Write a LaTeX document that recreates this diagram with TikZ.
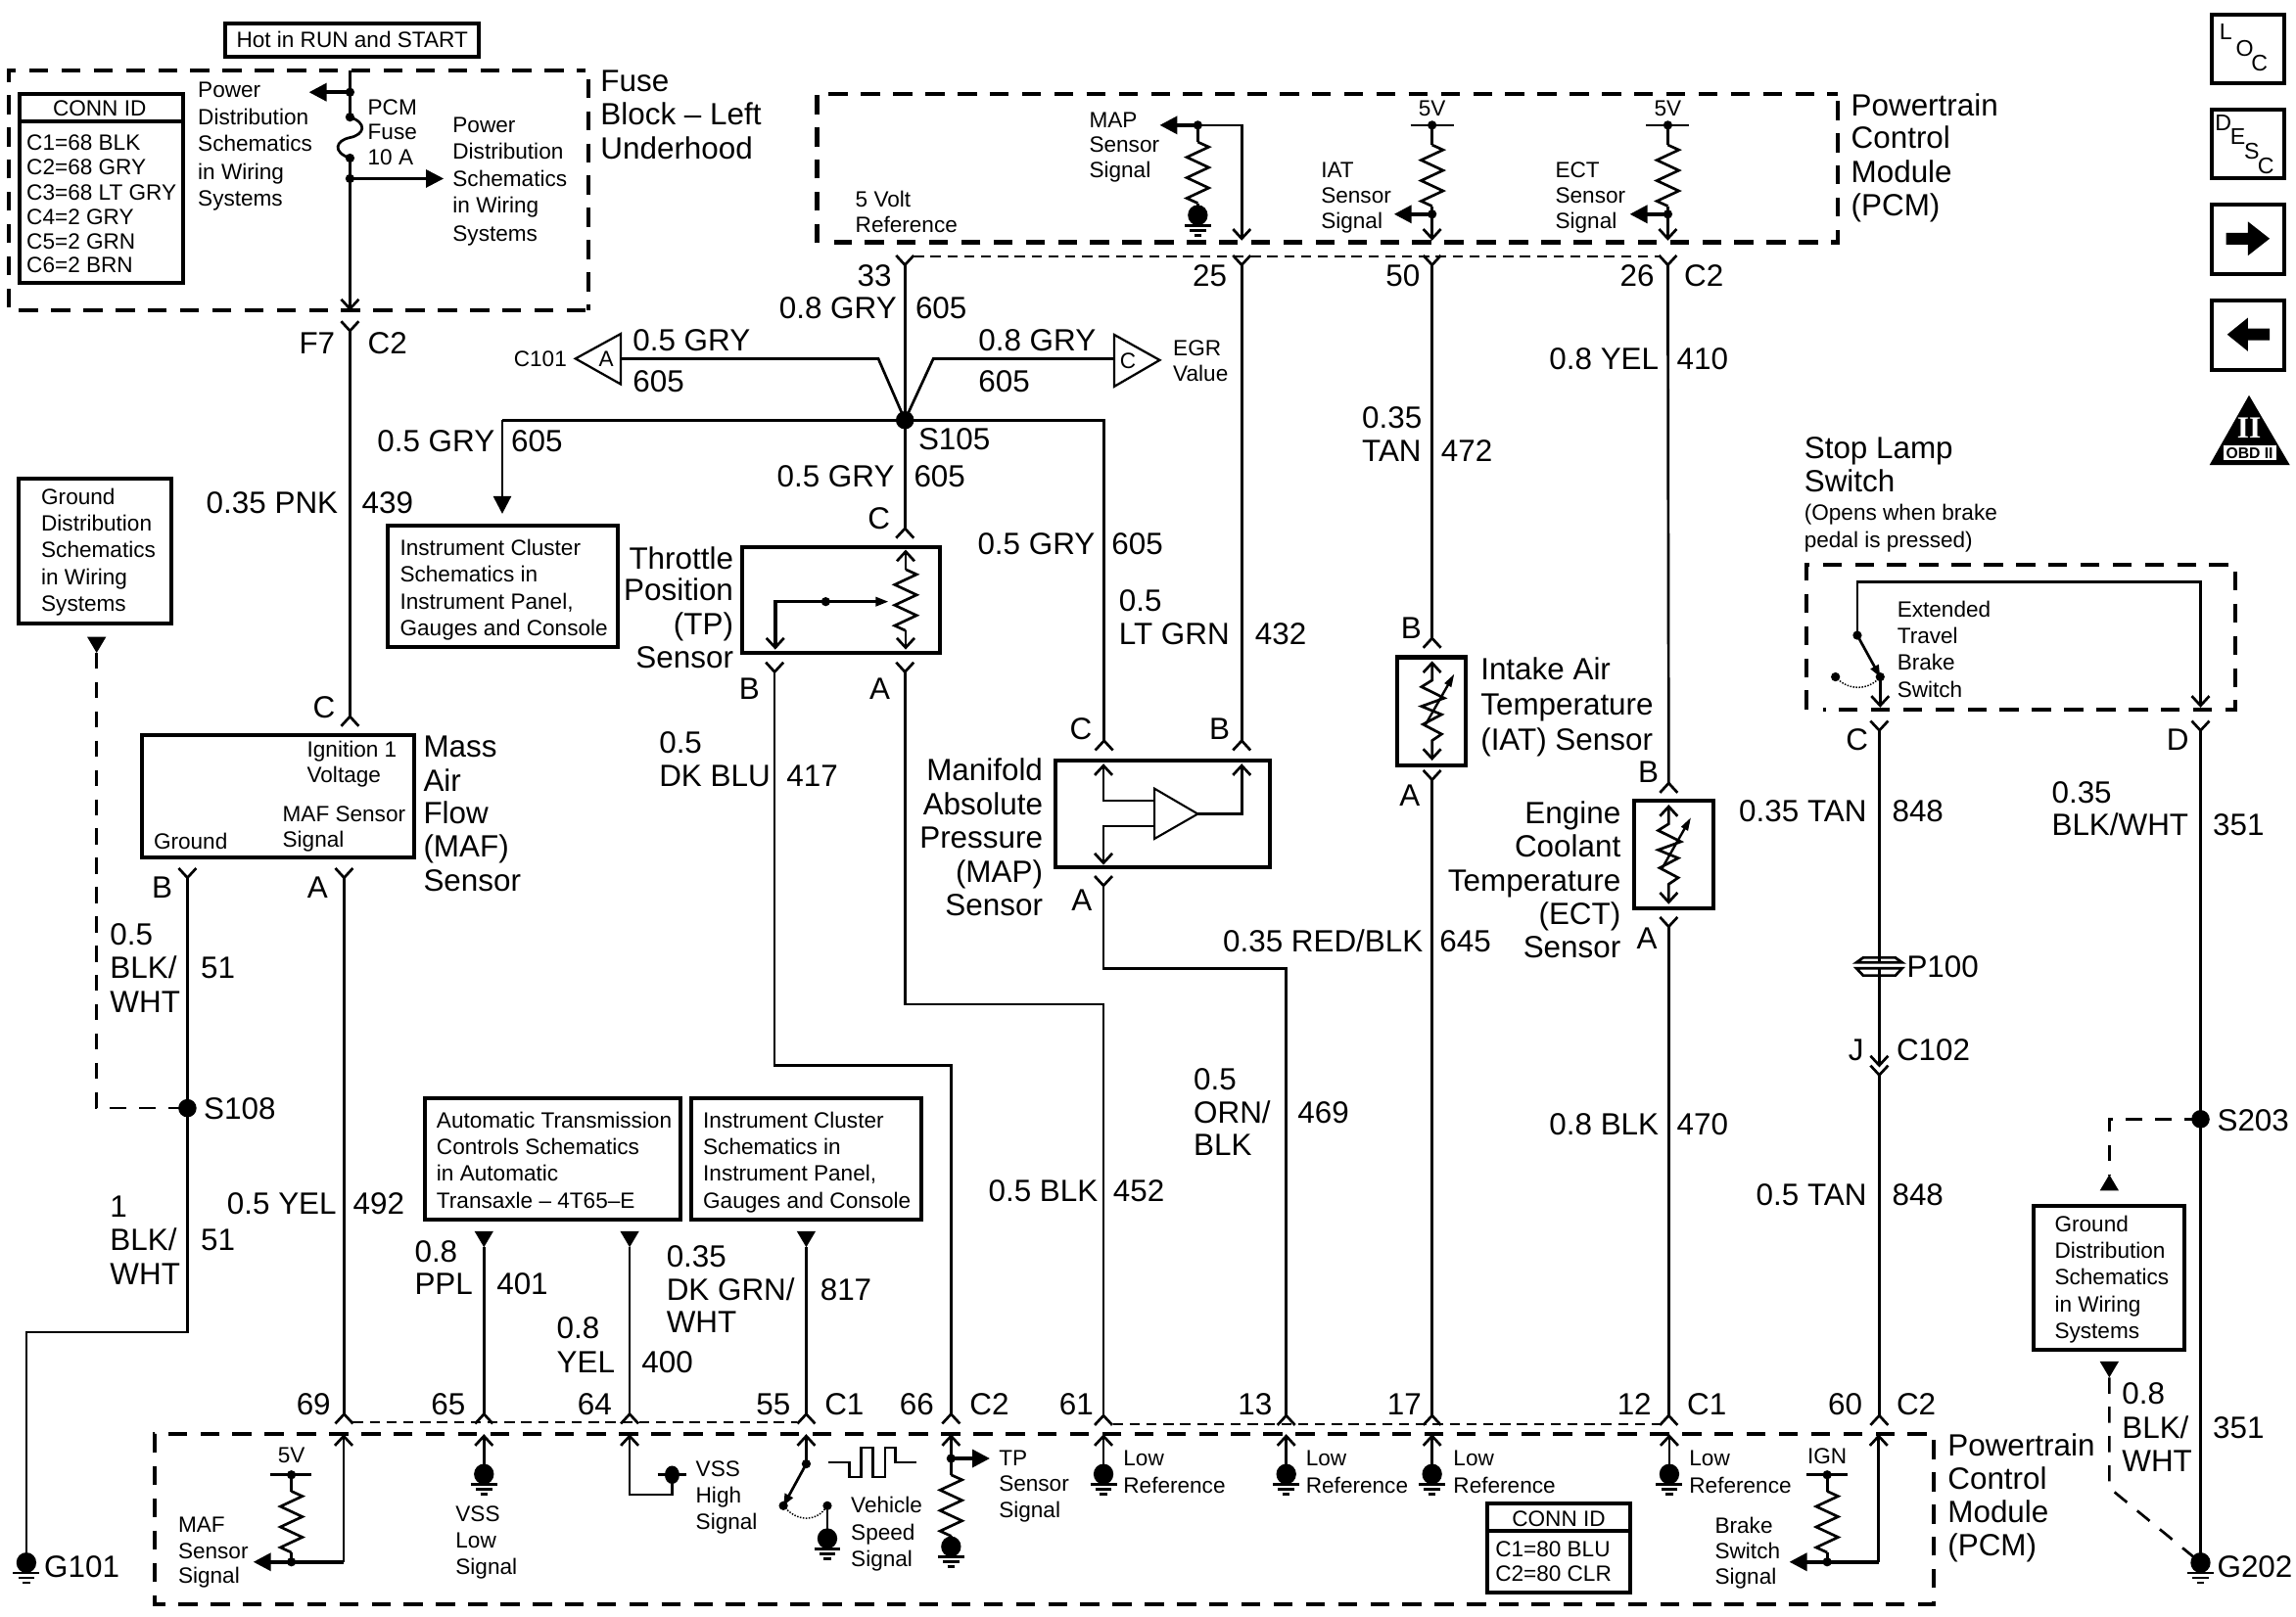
\documentclass[tikz,border=0pt]{standalone}
\usepackage{fontspec}
\setmainfont{Liberation Sans}
\newfontfamily\serfont{Liberation Serif}
\usetikzlibrary{calc,arrows.meta}
\newcounter{tn}
\tikzset{
  wire/.style={line width=1.8pt,line join=miter},
  wireb/.style={line width=2.4pt,line join=miter},
  boxb/.style={line width=2.7pt,draw=black},
  dashb/.style={line width=2.8pt,dash pattern=on 13pt off 9pt},
  dashm/.style={line width=1.8pt,dash pattern=on 11pt off 9pt},
  dasht/.style={line width=1.1pt,dash pattern=on 7pt off 4.5pt},
  sig/.style={-{Triangle[length=12pt,width=12pt]}},
  bigt/.style={inner sep=0pt,font=\fontsize{21}{23}\selectfont},
  smt/.style={inner sep=0pt,font=\fontsize{15.1}{18}\selectfont},
}
\newcommand\tbL[3]{\stepcounter{tn}\node[bigt,anchor=base west] (t\arabic{tn}) at (#1,#2+7.5) {#3};}
\newcommand\tbR[3]{\stepcounter{tn}\node[bigt,anchor=base east] (t\arabic{tn}) at (#1,#2+7.5) {#3};}
\newcommand\tsL[3]{\stepcounter{tn}\node[smt,anchor=base west] (t\arabic{tn}) at (#1,#2+5.5) {#3};}
\newcommand\tsC[3]{\stepcounter{tn}\node[smt,anchor=base] (t\arabic{tn}) at (#1,#2+5.5) {#3};}
\newcommand\icl[3]{\stepcounter{tn}\node[inner sep=0pt,anchor=base,font=\fontsize{15.5}{16}\selectfont] (t\arabic{tn}) at (#1,#2+5.7) {#3};}
\newcommand\forkU[1]{\draw[wire] ($(#1)+(-6,-6.5)$) -- (#1) -- ($(#1)+(6,-6.5)$);}
\newcommand\forkD[1]{\draw[wire] ($(#1)+(-6,6.5)$) -- (#1) -- ($(#1)+(6,6.5)$);}
\newcommand\jdot[1]{\fill (#1) circle (3.1pt);}
\newcommand\bigdot[1]{\fill (#1) circle (6.2pt);}
\newcommand\gnd[1]{\fill (#1) ellipse [x radius=6.8pt,y radius=7pt];
  \draw[wire] ($(#1)+(-9,7)$) -- ($(#1)+(9,7)$);
  \draw[wire] ($(#1)+(-5.5,10.4)$) -- ($(#1)+(5.5,10.4)$);
  \draw[wire] ($(#1)+(-2.5,13.8)$) -- ($(#1)+(2.5,13.8)$);}
\newcommand\zig[1]{\draw[wire] (#1) -- ++(7.5,3.4) -- ++(-15,7) -- ++(15,7) -- ++(-15,7) -- ++(15,7) -- ++(-15,7) -- ++(7.5,3.4) coordinate (zigend);}
\newcommand\triD[1]{\fill (#1) -- ($(#1)+(-6.5,-11)$) -- ($(#1)+(6.5,-11)$) -- cycle;}
\newcommand\triU[1]{\fill (#1) -- ($(#1)+(-6.5,11)$) -- ($(#1)+(6.5,11)$) -- cycle;}
\newcommand\therm[2]{% x, y of upper arrow apex
  \coordinate (thT) at (#1,#2);
  \coordinate (thB) at (#1,#2+65.3);
  \forkD{thT}\forkU{thB}
  \draw[wire] (thT) -- ($(thT)+(0,11.8)$) -- ($(thT)+(-7.2,16.3)$) -- ($(thT)+(8.3,24)$) -- ($(thT)+(-7.2,29.6)$) -- ($(thT)+(6.5,35.2)$) -- ($(thT)+(-6.2,41.9)$) -- ($(thT)+(6.5,48.6)$) -- ($(thT)+(0,53)$) -- (thB);
  \draw[line width=1.6pt,-{Triangle[length=9pt,width=5pt]}] ($(thT)+(-5,43)$) -- ($(thT)+(15.2,7.4)$);}
\begin{document}
\begin{tikzpicture}[x=1pt,y=-1pt]
\useasboundingbox (0,0) rectangle (1568,1104.6);
\fill[white] (0,0) rectangle (1568,1104.6);

% ---------- Hot box
\draw[boxb] (154,16) rectangle (327,38.5);
\tsC{240.5}{27}{Hot in RUN and START}

% ---------- Fuse block
\draw[dashb] (400,212) -- (6,212) -- (6,48) -- (400,48);
\draw[dashb] (402,54) -- (402,212);
\tbL{410}{55}{Fuse}
\tbL{410}{78}{Block -- Left}
\tbL{410}{101}{Underhood}
\draw[boxb] (13.5,64) rectangle (125,193);
\draw[boxb] (13.5,83) -- (125,83);
\tsC{68}{74}{CONN ID}
\tsL{18}{97}{C1=68 BLK}
\tsL{18}{114}{C2=68 GRY}
\tsL{18}{131}{C3=68 LT GRY}
\tsL{18}{148}{C4=2 GRY}
\tsL{18}{165}{C5=2 GRN}
\tsL{18}{181}{C6=2 BRN}
\tsL{135}{61}{Power}
\tsL{135}{80}{Distribution}
\tsL{135}{98}{Schematics}
\tsL{135}{117}{in Wiring}
\tsL{135}{135}{Systems}
\tsL{309}{85}{Power}
\tsL{309}{103}{Distribution}
\tsL{309}{122}{Schematics}
\tsL{309}{140}{in Wiring}
\tsL{309}{159}{Systems}
\tsL{251}{73}{PCM}
\tsL{251}{90}{Fuse}
\tsL{251}{107}{10 A}
\coordinate (fuA) at (239,48);
\coordinate (fuJ1) at (239,63);
\coordinate (fuD1) at (239,80);
\coordinate (fuD2) at (239,108);
\coordinate (fuJ2) at (239,122);
\coordinate (fuEnd) at (239,211);
\coordinate (fuL) at (211,63);
\coordinate (fuR) at (303,122);
\draw[wire] (fuA) -- (fuD1);
\draw[wire] (fuD1) .. controls (251,84) and (249,92) .. (239,94) .. controls (229,96) and (227,104) .. (fuD2);
\draw[wire] (fuD2) -- (fuEnd);
\draw[wireb,sig] (fuJ1) -- (fuL);
\draw[wire,sig] (fuJ2) -- (fuR);
\jdot{fuJ1}\jdot{fuD1}\jdot{fuD2}\jdot{fuJ2}
\forkU{fuEnd}

% ---------- Wire 439
\coordinate (f7) at (239,226);
\coordinate (mafC) at (239,489.5);
\forkU{f7}\forkD{mafC}
\draw[wire] (f7) -- (mafC);
\tbR{229}{234}{F7}
\tbL{251}{234}{C2}
\tbR{231}{343}{0.35 PNK}
\tbL{247}{343}{439}
\tbR{229}{483}{C}

% ---------- Ground box, S108
\draw[boxb] (13,327) rectangle (117,426);
\tsL{28}{339}{Ground}
\tsL{28}{357}{Distribution}
\tsL{28}{375}{Schematics}
\tsL{28}{394}{in Wiring}
\tsL{28}{412}{Systems}
\coordinate (gd1) at (66,446);
\coordinate (s108) at (128,757);
\triD{gd1}
\draw[dashm] (gd1) |- (s108);
\tbL{139}{757}{S108}

% ---------- MAF sensor
\draw[boxb] (97,502) rectangle (282.6,586);
\tsL{209.5}{512}{Ignition 1}
\tsL{209.5}{529}{Voltage}
\tsL{192.8}{555.5}{MAF Sensor}
\tsL{192.8}{573}{Signal}
\tsL{104.8}{574.7}{Ground}
\tbL{289}{510}{Mass}
\tbL{289}{533}{Air}
\tbL{289}{555}{Flow}
\tbL{289}{578}{(MAF)}
\tbL{289}{601}{Sensor}
\coordinate (mafB) at (128,599.6);
\coordinate (mafA) at (235,599.6);
\forkU{mafB}\forkU{mafA}
\tbR{118}{606}{B}
\tbR{224}{606}{A}
\coordinate (g101) at (18,1067.5);
\coordinate (p69o) at (235,966);
\coordinate (p69i) at (235,981);
\draw[wire] (mafB) -- (s108) -- (128,910) -- (18,910) -- (g101);
\bigdot{s108}
\gnd{g101}
\draw[wire] (mafA) -- (p69o);
\forkD{p69o}
\tbL{75}{638}{0.5}
\tbL{75}{661}{BLK/}
\tbL{75}{684}{WHT}
\tbL{137}{661}{51}
\tbL{75}{824}{1}
\tbL{75}{847}{BLK/}
\tbL{75}{870}{WHT}
\tbL{137}{847}{51}
\tbR{230}{822}{0.5 YEL}
\tbL{241}{822}{492}
\tbL{30}{1070}{G101}

% ---------- top PCM
\draw[dashb] (558,166) -- (558,64) -- (1255,64);
\draw[dashb] (1255,69) -- (1255,165.5) -- (570,165.5);
\tsL{584}{136}{5 Volt}
\tsL{584}{153.5}{Reference}
\tbL{1264}{71.5}{Powertrain}
\tbL{1264}{94}{Control}
\tbL{1264}{117}{Module}
\tbL{1264}{139.7}{(PCM)}
% MAP circuit in PCM
\coordinate (mapJ) at (818,85.5);
\coordinate (mapL) at (792,85.5);
\coordinate (mapC) at (848,85.5);
\coordinate (p25i) at (848,163);
\coordinate (mapG) at (818,147);
\draw[wireb,sig] (mapJ) -- (mapL);
\draw[wire] (mapJ) -- (mapC) -- (p25i);
\draw[wire] (mapJ) -- (818,97);
\zig{818,97}
\draw[wire] (zigend) -- (mapG);
\gnd{mapG}
\jdot{mapJ}
\forkU{p25i}
\tsL{743.7}{82}{MAP}
\tsL{743.7}{98.6}{Sensor}
\tsL{743.7}{116}{Signal}
% IAT circuit
\coordinate (iatV) at (978,85.5);
\coordinate (iatJ) at (978,146.3);
\coordinate (iatL) at (952,146.3);
\coordinate (p50i) at (978,163);
\draw[wire] (963.3,85.5) -- (992.7,85.5);
\draw[wire] (iatV) -- (978,99);
\zig{978,99}
\draw[wire] (zigend) -- (p50i);
\draw[wireb,sig] (iatJ) -- (iatL);
\jdot{iatV}\jdot{iatJ}
\forkU{p50i}
\tsC{978}{74}{5V}
\tsL{902}{115.6}{IAT}
\tsL{902}{133}{Sensor}
\tsL{902}{150.5}{Signal}
% ECT circuit
\coordinate (ectV) at (1139,85.5);
\coordinate (ectJ) at (1139,146.3);
\coordinate (ectL) at (1113,146.3);
\coordinate (p26i) at (1139,163);
\draw[wire] (1124.3,85.5) -- (1153.7,85.5);
\draw[wire] (ectV) -- (1139,99);
\zig{1139,99}
\draw[wire] (zigend) -- (p26i);
\draw[wireb,sig] (ectJ) -- (ectL);
\jdot{ectV}\jdot{ectJ}
\forkU{p26i}
\tsC{1139}{74}{5V}
\tsL{1062}{115.6}{ECT}
\tsL{1062}{133}{Sensor}
\tsL{1062}{150.5}{Signal}

% top connector row
\coordinate (p33) at (618,181);
\coordinate (p25) at (848,181);
\coordinate (p50) at (978,181);
\coordinate (p26) at (1139,181);
\forkU{p33}\forkU{p25}\forkU{p50}\forkU{p26}
\draw[dasht] (624,175) -- (1133,175);
\tbR{609}{188}{33}
\tbR{838}{188}{25}
\tbR{970}{188}{50}
\tbR{1130}{188}{26}
\tbL{1150}{188}{C2}

% ---------- S105 network
\coordinate (s105) at (618,287);
\coordinate (tpC) at (618,361);
\draw[wire] (p33) -- (tpC);
\forkD{tpC}
\coordinate (c101w) at (424,245);
\coordinate (egrw) at (761,245);
\draw[wire] (c101w) -- (599.8,245) -- (s105) -- (637.4,245) -- (egrw);
\draw[line width=1.5pt] (424,228) -- (393,245) -- (424,262.5) -- cycle;
\draw[line width=1.5pt] (761,228.7) -- (792,246) -- (761,264) -- cycle;
\tsC{414}{245}{A}
\tsC{770.3}{246}{C}
\tsC{369}{245}{C101}
\tsL{801}{237.6}{EGR}
\tsL{801}{255}{Value}
\coordinate (icw) at (343,287);
\coordinate (ict) at (343,351);
\coordinate (mapw) at (754,287);
\coordinate (mapCc) at (754,506);
\draw[wire] (s105) -- (icw);
\draw[wire,sig] (icw) -- (ict);
\draw[wire] (s105) -- (mapw) -- (mapCc);
\forkD{mapCc}
\bigdot{s105}
\tbL{627}{300}{S105}
\tbR{612.5}{210}{0.8 GRY}
\tbL{625}{210}{605}
\tbL{432}{232}{0.5 GRY}
\tbL{432}{260}{605}
\tbL{668}{232}{0.8 GRY}
\tbL{668}{260}{605}
\tbR{338}{301}{0.5 GRY}
\tbL{349}{301}{605}
\tbR{611}{325}{0.5 GRY}
\tbL{624}{325}{605}
\tbR{608}{354}{C}
\tbR{748}{371}{0.5 GRY}
\tbL{759}{371}{605}
\tbL{764}{410}{0.5}
\tbL{764}{433}{LT GRN}
\tbL{857}{433}{432}

% Instrument cluster box 1
\draw[boxb] (265,359) rectangle (422,442);
\tsL{273}{374}{Instrument Cluster}
\tsL{273}{392}{Schematics in}
\tsL{273}{411}{Instrument Panel,}
\tsL{273}{429}{Gauges and Console}

% ---------- TP sensor
\draw[boxb] (507,374) rectangle (642,446.2);
\coordinate (tpIT) at (618.5,376.8);
\coordinate (tpIB) at (618.5,442.4);
\forkD{tpIT}\forkU{tpIB}
\draw[wire] (tpIT) -- (618.5,389);
\zig{618.5,389}
\draw[wire] (zigend) -- (tpIB);
\coordinate (tpWb) at (529.4,442.4);
\coordinate (tpWc) at (529.4,411);
\coordinate (tpDot) at (563.9,411);
\coordinate (tpTip) at (607,411);
\forkU{tpWb}
\draw[wireb] (tpWb) -- (tpWc) -- (tpDot);
\draw[wireb,-{Triangle[length=9pt,width=6pt]}] (tpDot) -- (tpTip);
\jdot{tpDot}
\tbR{501}{381}{Throttle}
\tbR{501}{403}{Position}
\tbR{501}{426}{(TP)}
\tbR{501}{449}{Sensor}
\coordinate (tpB) at (529,459);
\coordinate (tpA) at (618,459);
\forkU{tpB}\forkU{tpA}
\tbR{519}{470}{B}
\tbR{608}{470}{A}
\coordinate (p66) at (649.5,966);
\coordinate (p61) at (753.6,967);
\draw[wire] (tpB) -- (529,728) -- (649.5,728) -- (p66);
\draw[wire] (tpA) -- (618,686) -- (753.6,686) -- (p61);
\tbL{450}{507}{0.5}
\tbL{450}{530}{DK BLU}
\tbL{537}{530}{417}
\tbR{750}{813}{0.5 BLK}
\tbL{760}{813}{452}

% ---------- MAP sensor
\draw[boxb] (721,519.4) rectangle (867,592.5);
\coordinate (mpC) at (753.6,523);
\coordinate (mpA) at (753.6,589.5);
\coordinate (mpB) at (848,523);
\coordinate (mpT1) at (788.4,547);
\coordinate (mpT2) at (788.4,564.3);
\coordinate (mpTip) at (818,556);
\forkD{mpC}\forkD{mpB}\forkU{mpA}
\draw[wire] (mpC) |- (mpT1);
\draw[wire] (mpA) |- (mpT2);
\draw[wire] (mpTip) -- (848,556) -- (mpB);
\draw[line width=1.4pt] (788.4,538.7) -- (mpTip) -- (788.4,573) -- cycle;
\tbR{712.3}{526}{Manifold}
\tbR{712.3}{549}{Absolute}
\tbR{712.3}{572}{Pressure}
\tbR{712.3}{595}{(MAP)}
\tbR{712.3}{618}{Sensor}
\coordinate (mapCb) at (848,506);
\forkD{mapCb}
\draw[wire] (p25) -- (mapCb);
\tbR{746}{498}{C}
\tbR{840}{498}{B}
\coordinate (mapAy) at (753.6,605);
\forkU{mapAy}
\coordinate (p13) at (878.4,967);
\draw[wire] (mapAy) -- (753.6,661.5) -- (878.4,661.5) -- (p13);
\tbR{746}{615}{A}
\tbL{815}{737}{0.5}
\tbL{815}{760}{ORN/}
\tbL{815}{782}{BLK}
\tbL{886}{760}{469}

% ---------- IAT sensor
\draw[boxb] (954,449) rectangle (1001,522.7);
\therm{978}{452.9}
\coordinate (iatB) at (978,436);
\coordinate (iatA) at (978,532.7);
\coordinate (p17) at (978,967);
\forkD{iatB}\forkU{iatA}
\draw[wire] (p50) -- (iatB);
\draw[wire] (iatA) -- (p17);
\tbL{1011}{457}{Intake Air}
\tbL{1011}{481}{Temperature}
\tbL{1011}{505}{(IAT) Sensor}
\tbR{971}{429}{B}
\tbR{970}{543}{A}
\tbL{930}{285}{0.35}
\tbL{930}{308}{TAN}
\tbL{984}{308}{472}
\tbR{972}{643}{0.35 RED/BLK}
\tbL{983}{643}{645}

% ---------- ECT sensor
\draw[boxb] (1116,547) rectangle (1170.3,620.7);
\therm{1139.6}{551}
\coordinate (ectB) at (1139.6,535);
\coordinate (ectA) at (1139.6,633);
\coordinate (p12) at (1139.6,967);
\forkD{ectB}\forkU{ectA}
\draw[wire] (p26) -- (ectB);
\draw[wire] (ectA) -- (p12);
\tbR{1107}{555}{Engine}
\tbR{1107}{578}{Coolant}
\tbR{1107}{601}{Temperature}
\tbR{1107}{624}{(ECT)}
\tbR{1107}{647}{Sensor}
\tbR{1133}{527}{B}
\tbR{1132}{641}{A}
\tbR{1133}{245}{0.8 YEL}
\tbL{1145}{245}{410}
\tbR{1133}{768}{0.8 BLK}
\tbL{1145}{768}{470}

% ---------- Stop lamp switch
\tbL{1232}{306}{Stop Lamp}
\tbL{1232}{328.7}{Switch}
\tsL{1232}{350}{(Opens when brake}
\tsL{1232}{368.6}{pedal is pressed)}
\draw[dashb] (1233.5,484.7) -- (1233.5,386) -- (1526.4,386) -- (1526.4,484.7) -- (1245,484.7);
\coordinate (swA) at (1268.4,434);
\coordinate (swB) at (1284,462.4);
\coordinate (swO) at (1253.5,462.4);
\coordinate (swC) at (1284,482);
\coordinate (swD) at (1502.8,482);
\draw[wire] (swA) -- (1268.4,397.5) -- (1502.8,397.5) -- (swD);
\draw[wire,-{Triangle[length=8pt,width=6pt]}] (swA) -- (swB);
\draw[wire] (swB) -- (swC);
\draw[line width=1pt,densely dotted] (swO) .. controls (1262,472) and (1276,472) .. (swB);
\jdot{swA}\jdot{swB}\jdot{swO}
\forkU{swC}\forkU{swD}
\tsL{1295.5}{416}{Extended}
\tsL{1295.5}{434}{Travel}
\tsL{1295.5}{452.4}{Brake}
\tsL{1295.5}{470.8}{Switch}
\coordinate (stC) at (1283.4,499);
\coordinate (stD) at (1502.8,499);
\forkU{stC}\forkU{stD}
\tbR{1276}{505}{C}
\tbR{1495}{505}{D}
\coordinate (p100) at (1283.4,660);
\coordinate (j1) at (1283.4,727.8);
\coordinate (j2) at (1283.4,734.4);
\coordinate (p60) at (1283.4,967);
\draw[wire] (stC) -- (j1);
\forkU{j1}\forkU{j2}
\draw[wire] (j2) -- (p60);
\fill[white] (1274,657.5) rectangle (1293,661.5);
\draw[wire] (1267.8,657.5) -- (1272.4,654.2) -- (1294.4,654.2) -- (1299,657.5) -- cycle;
\draw[wire] (1267.8,661.5) -- (1272.4,666.4) -- (1294.4,666.4) -- (1299,661.5) -- cycle;
\tbL{1302}{660}{P100}
\tbR{1273}{717}{J}
\tbL{1295}{717}{C102}
\tbR{1275}{554}{0.35 TAN}
\tbL{1292}{554}{848}
\tbR{1275}{816}{0.5 TAN}
\tbL{1292}{816}{848}

% ---------- 351, S203, G202
\coordinate (s203) at (1502.8,764.5);
\coordinate (g202) at (1502.8,1067.5);
\draw[wire] (stD) -- (g202);
\bigdot{s203}
\gnd{g202}
\tbL{1514}{765}{S203}
\tbL{1514}{1070}{G202}
\tbL{1401}{541}{0.35}
\tbL{1401}{563}{BLK/WHT}
\tbL{1511}{563}{351}
\coordinate (gd2) at (1440.5,802.4);
\draw[dashm] (s203) -| (gd2);
\triU{gd2}
\draw[boxb] (1388.5,824) rectangle (1492,922);
\tsL{1403}{836}{Ground}
\tsL{1403}{854}{Distribution}
\tsL{1403}{872}{Schematics}
\tsL{1403}{891}{in Wiring}
\tsL{1403}{909}{Systems}
\coordinate (gd3) at (1440.5,941);
\triD{gd3}
\draw[dashm] (gd3) -- (1440.5,1016.4) -- (g202);
\tbL{1449}{952}{0.8}
\tbL{1449}{975}{BLK/}
\tbL{1449}{998}{WHT}
\tbL{1511}{975}{351}

% ---------- boxes above bottom
\draw[boxb] (290,750) rectangle (465,833);
\tsL{298}{765}{Automatic Transmission}
\tsL{298}{783}{Controls Schematics}
\tsL{298}{801}{in Automatic}
\tsL{298}{820}{Transaxle -- 4T65--E}
\draw[boxb] (472,750) rectangle (629,833);
\tsL{480}{765}{Instrument Cluster}
\tsL{480}{783}{Schematics in}
\tsL{480}{801}{Instrument Panel,}
\tsL{480}{820}{Gauges and Console}
\coordinate (a65) at (330.5,852);
\coordinate (a64) at (430,852);
\coordinate (a55) at (550.6,852);
\coordinate (p65) at (330.5,966);
\coordinate (p64) at (430,966);
\coordinate (p55) at (550.6,966);
\triD{a65}\triD{a64}\triD{a55}
\draw[wire] (a65) -- (p65);
\draw[wire] (a64) -- (p64);
\draw[wire] (a55) -- (p55);
\tbL{283}{855}{0.8}
\tbL{283}{877}{PPL}
\tbL{339}{877}{401}
\tbL{380}{907}{0.8}
\tbL{380}{930}{YEL}
\tbL{438}{930}{400}
\tbL{455}{858}{0.35}
\tbL{455}{881}{DK GRN/}
\tbL{455}{903}{WHT}
\tbL{560}{881}{817}

% ---------- bottom connector row
\coordinate (p60x) at (1283.4,967);
\forkD{p65}\forkD{p64}\forkD{p55}\forkD{p66}\forkD{p61}\forkD{p13}\forkD{p17}\forkD{p12}\forkD{p60x}
\draw[dasht] (241,971.4) -- (544,971.4);
\draw[dasht] (760,973) -- (1134,973);
\tbR{226}{959}{69}
\tbR{318}{959}{65}
\tbR{418}{959}{64}
\tbR{540}{959}{55}
\tbL{563}{959}{C1}
\tbR{638}{959}{66}
\tbL{662}{959}{C2}
\tbR{747}{959}{61}
\tbR{869}{959}{13}
\tbR{971}{959}{17}
\tbR{1128}{959}{12}
\tbL{1152}{959}{C1}
\tbR{1272}{959}{60}
\tbL{1295}{959}{C2}

% ---------- bottom PCM
\draw[dashb] (105.8,1090) -- (105.8,1096) -- (1320.6,1096) -- (1320.6,979.6) -- (105.8,979.6) -- (105.8,1085);
\tbL{1330}{987}{Powertrain}
\tbL{1330}{1010}{Control}
\tbL{1330}{1032.5}{Module}
\tbL{1330}{1055}{(PCM)}

% MAF signal
\coordinate (i69) at (234.7,981);
\coordinate (i69c) at (234.7,1067);
\coordinate (mafJ) at (199,1067);
\coordinate (mafT) at (173,1067);
\coordinate (mafV) at (199,1007.5);
\forkD{i69}
\draw[wire] (i69) -- (i69c);
\draw[wireb] (i69c) -- (mafJ);
\draw[wireb,sig] (mafJ) -- (mafT);
\draw[wire] (184.6,1007.5) -- (212.9,1007.5);
\draw[wire] (mafV) -- (199,1018.7);
\zig{199,1018.7}
\draw[wire] (zigend) -- (mafJ);
\jdot{mafV}\jdot{mafJ}
\tsC{199}{994}{5V}
\tsL{121.5}{1041}{MAF}
\tsL{121.5}{1059}{Sensor}
\tsL{121.5}{1076}{Signal}

% VSS low
\coordinate (i65) at (330.5,981);
\coordinate (vssG) at (330.5,1007);
\forkD{i65}
\draw[wire] (i65) -- (vssG);
\gnd{vssG}
\tsL{311}{1034}{VSS}
\tsL{311}{1052}{Low}
\tsL{311}{1070}{Signal}

% VSS high
\coordinate (i64) at (430,981);
\coordinate (vssH) at (459,1007.5);
\forkD{i64}
\draw[wire] (i64) -- (430,1021) -- (459,1021) -- (vssH);
\fill (vssH) ellipse [x radius=5pt,y radius=6.2pt];
\draw[wire] (449,1007.5) -- (469,1007.5);
\tsL{475}{1003}{VSS}
\tsL{475}{1021}{High}
\tsL{475}{1039}{Signal}

% Vehicle speed switch
\coordinate (i55) at (550.6,981);
\coordinate (vsA) at (550.6,1000);
\coordinate (vsB) at (535,1028.6);
\coordinate (vsC) at (565,1028.6);
\coordinate (vsG) at (565,1051);
\forkD{i55}
\draw[wire] (i55) -- (vsA);
\draw[wire,-{Triangle[length=8pt,width=6pt]}] (vsA) -- (vsB);
\draw[wire] (vsC) -- (vsG);
\draw[line width=1pt,densely dotted] (vsB) .. controls (544,1040) and (558,1040) .. (vsC);
\jdot{vsA}\jdot{vsB}\jdot{vsC}
\gnd{vsG}
\draw[wire] (566,999) -- (580.2,999) -- (580.2,1009) -- (588,1009) -- (588,989) -- (596,989) -- (596,1009) -- (604.5,1009) -- (604.5,989) -- (611.6,989) -- (611.6,999) -- (625.6,999);
\tsL{581}{1028}{Vehicle}
\tsL{581}{1046.5}{Speed}
\tsL{581}{1064.5}{Signal}

% TP signal
\coordinate (i66) at (649.5,981);
\coordinate (tpJ) at (649.5,996.3);
\coordinate (tpR) at (676,996.3);
\coordinate (tpG) at (649.5,1056.5);
\forkD{i66}
\draw[wire] (i66) -- (649.5,1007.5);
\draw[wireb,sig] (tpJ) -- (tpR);
\zig{649.5,1007.5}
\draw[wire] (zigend) -- (tpG);
\jdot{tpJ}
\gnd{tpG}
\tsL{682}{996}{TP}
\tsL{682}{1013}{Sensor}
\tsL{682}{1031}{Signal}

% Low references
\coordinate (i61) at (753.6,981);
\coordinate (g61) at (753.6,1007);
\coordinate (i13) at (878.4,981);
\coordinate (g13) at (878.4,1007);
\coordinate (i17) at (978,981);
\coordinate (g17) at (978,1007);
\coordinate (i12) at (1140,981);
\coordinate (g12) at (1140,1007);
\forkD{i61}\forkD{i13}\forkD{i17}\forkD{i12}
\draw[wire] (i61) -- (g61);
\draw[wire] (i13) -- (g13);
\draw[wire] (i17) -- (g17);
\draw[wire] (i12) -- (g12);
\gnd{g61}\gnd{g13}\gnd{g17}\gnd{g12}
\tsL{767}{996}{Low}
\tsL{767}{1014.6}{Reference}
\tsL{891.7}{996}{Low}
\tsL{891.7}{1014.6}{Reference}
\tsL{992.4}{996}{Low}
\tsL{992.4}{1014.6}{Reference}
\tsL{1153.5}{996}{Low}
\tsL{1153.5}{1014.6}{Reference}

% CONN ID bottom
\draw[boxb] (1015.6,1027) rectangle (1113.4,1087.7);
\draw[boxb] (1015.6,1046) -- (1113.4,1046);
\tsC{1064.5}{1037}{CONN ID}
\tsL{1021}{1058}{C1=80 BLU}
\tsL{1021}{1075}{C2=80 CLR}

% Brake switch signal
\coordinate (i60) at (1283,981);
\coordinate (i60c) at (1283,1067);
\coordinate (brJ) at (1247.8,1067);
\coordinate (brT) at (1222,1067);
\coordinate (brV) at (1247.8,1007.5);
\forkD{i60}
\draw[wire] (i60) -- (i60c);
\draw[wireb] (i60c) -- (brJ);
\draw[wireb,sig] (brJ) -- (brT);
\draw[wire] (1233.8,1007.5) -- (1261.8,1007.5);
\draw[wire] (brV) -- (1247.8,1018.7);
\zig{1247.8,1018.7}
\draw[wire] (zigend) -- (brJ);
\jdot{brV}\jdot{brJ}
\tsC{1247.8}{994.5}{IGN}
\tsL{1171}{1042}{Brake}
\tsL{1171}{1059}{Switch}
\tsL{1171}{1076.5}{Signal}

% ---------- side icons
\draw[boxb] (1510.5,10) rectangle (1560,56.6);
\icl{1520}{21.6}{L}
\icl{1533}{33}{O}
\icl{1543}{43}{C}
\draw[boxb] (1510.5,75) rectangle (1560,122);
\icl{1518.4}{83.8}{D}
\icl{1528.3}{93}{E}
\icl{1537.8}{103}{S}
\icl{1547.4}{113}{C}
\draw[boxb] (1510.5,140) rectangle (1560,187);
\fill (1520.3,159) -- (1535.2,159) -- (1535.2,151.4) -- (1550,163) -- (1535.2,174.6) -- (1535.2,167) -- (1520.3,167) -- cycle;
\draw[boxb] (1510.5,205) rectangle (1560,252.5);
\fill (1550,224.5) -- (1535.2,224.5) -- (1535.2,217) -- (1521,228.5) -- (1535.2,240) -- (1535.2,232.5) -- (1550,232.5) -- cycle;
\fill (1535.9,270) -- (1563.8,317.7) -- (1508.9,317.7) -- cycle;
\fill[white] (1518.4,304.5) rectangle (1554.3,314.4);
\stepcounter{tn}\node[inner sep=0pt,anchor=base,text=white,font=\serfont\bfseries\fontsize{21}{21}\selectfont] (t\arabic{tn}) at (1535.9,299.5) {II};
\stepcounter{tn}\node[inner sep=0pt,anchor=base,font=\bfseries\fontsize{10.5}{11}\selectfont] (t\arabic{tn}) at (1536.3,313.3) {OBD II};

\end{tikzpicture}
\end{document}
